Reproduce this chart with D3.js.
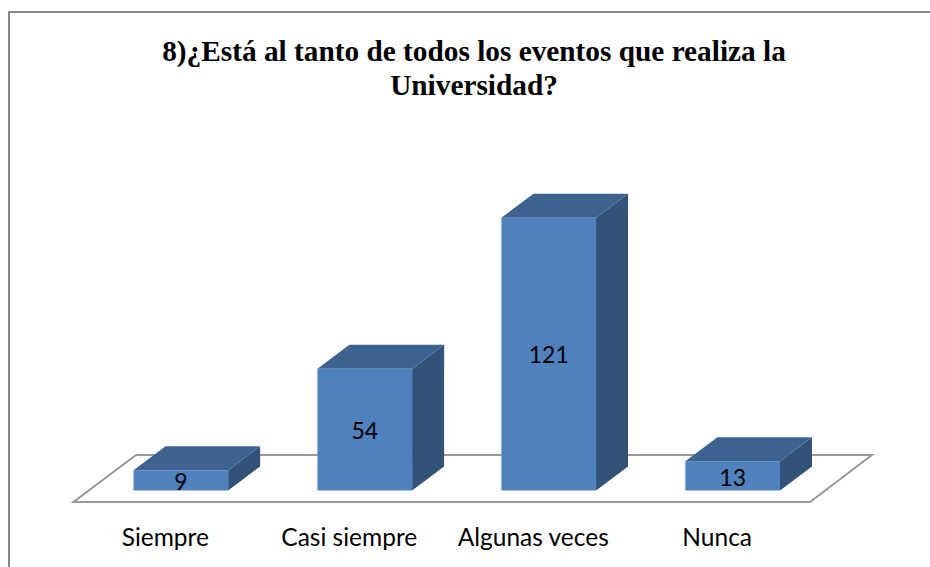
<!DOCTYPE html>
<html>
<head>
<meta charset="utf-8">
<script src="https://cdn.jsdelivr.net/npm/d3@7"></script>
<style>
  html, body { margin: 0; padding: 0; background: #fff; }
</style>
</head>
<body>
<div id="chart"></div>
<script>
// --- Data ---
const categories = ["Siempre", "Casi siempre", "Algunas veces", "Nunca"];
const values = [9, 54, 121, 13];
const titleLines = ["8)¿Está al tanto de todos los eventos que realiza la", "Universidad?"];

const width = 930;
const height = 567;

// --- 3D offset of the columns ---
const depthX = 32;
const depthY = 24;

const svg = d3
  .select("#chart")
  .append("svg")
  .attr("width", width)
  .attr("height", height)
  .style("display", "block")
  .style("background", "#fff");

// --- Scales ---
const x = d3
  .scaleBand()
  .domain(categories)
  .range([133.5, 780])
  .paddingInner(0.4855)
  .paddingOuter(0);

const y = d3.scaleLinear().domain([0, 121]).range([490.5, 217.7]);

// --- Outer frame (only left and top visible, it runs off the page) ---
svg
  .append("path")
  .attr("d", "M9,567V12H930")
  .attr("fill", "none")
  .attr("stroke", "#868686")
  .attr("stroke-width", 2);

// --- Title ---
svg
  .append("text")
  .attr("text-anchor", "middle")
  .style("font-family", "'Liberation Serif', serif")
  .style("font-weight", "bold")
  .style("font-size", "29.3px")
  .style("fill", "#000")
  .selectAll("tspan")
  .data(titleLines)
  .join("tspan")
  .attr("x", 474)
  .attr("y", (d, i) => 61 + i * 34)
  .text((d) => d);

// --- Floor ---
const x0 = x(categories[0]);
const x3 = x(categories[3]) + x.bandwidth();
const floorY = y(0) + 11.5;
svg
  .append("path")
  .attr(
    "d",
    `M${x0 - 60},${floorY}L${x3 + 30},${floorY}L${x3 + 92},${floorY - 47}L${x0 + 2.5},${floorY - 47}Z`
  )
  .attr("fill", "#fff")
  .attr("stroke", "#999")
  .attr("stroke-width", 2);

// --- Columns ---
const bars = svg
  .selectAll("g.bar")
  .data(values)
  .join("g")
  .attr("class", "bar")
  .attr("transform", (d, i) => `translate(${x(categories[i])},0)`);

const w = x.bandwidth();

// Side face
bars
  .append("path")
  .attr("fill", "#325278")
  .attr("d", (d) => `M${w},${y(d)}l${depthX},${-depthY}V${y(0) - depthY}l${-depthX},${depthY}Z`);

// Top face
bars
  .append("path")
  .attr("fill", "#3d628f")
  .attr("d", (d) => `M0,${y(d)}l${depthX},${-depthY}h${w}l${-depthX},${depthY}Z`);

// Front face
bars
  .append("rect")
  .attr("y", (d) => y(d))
  .attr("width", w)
  .attr("height", (d) => y(0) - y(d))
  .attr("fill", "#4f81bd");

// Value labels
const labelY = { 9: 489.5, 13: 486 };
bars
  .append("text")
  .attr("x", w / 2)
  .attr("y", (d) => labelY[d] ?? (y(d) + y(0)) / 2 + 9)
  .attr("text-anchor", "middle")
  .style("font-family", "Lato, sans-serif")
  .style("font-size", "23px")
  .style("fill", "#000")
  .text((d) => d);

// --- Category labels ---
const axis = svg
  .append("g")
  .attr("transform", "translate(-15.5,529)")
  .call(d3.axisBottom(x).tickSize(0).tickPadding(0));
axis.select(".domain").remove();
axis
  .selectAll("text")
  .style("font-family", "Lato, sans-serif")
  .style("font-size", "24.5px")
  .style("fill", "#000");
</script>
</body>
</html>
